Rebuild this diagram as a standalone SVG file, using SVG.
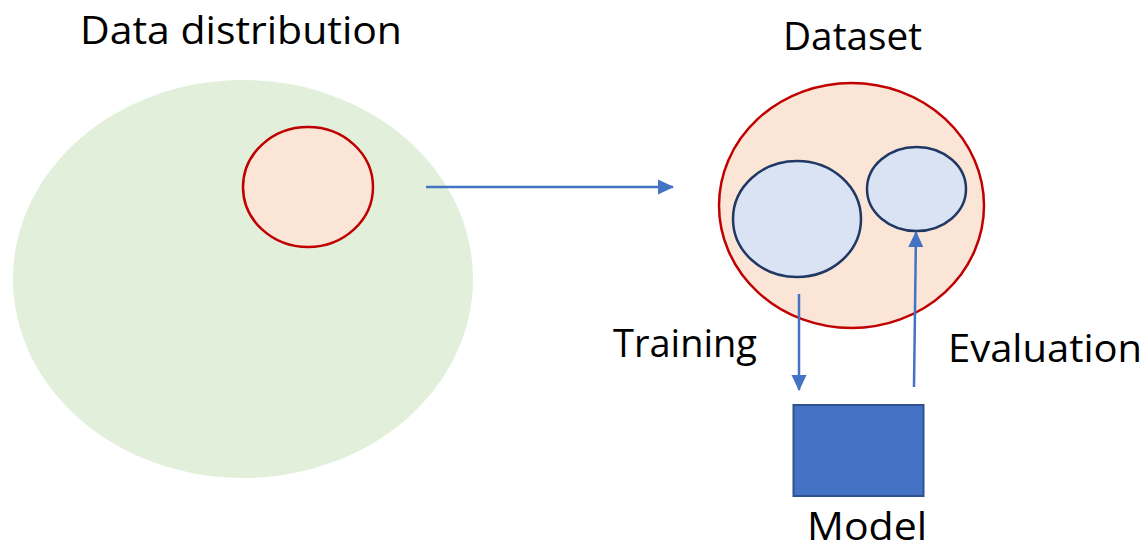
<svg xmlns="http://www.w3.org/2000/svg" width="1148" height="549" viewBox="0 0 1148 549">
<style>
text{font-family:"Open Sans","Liberation Sans",sans-serif;font-size:38px;fill:#000}
.conn{stroke:#4472C4;stroke-width:2.5;fill:none;marker-end:url(#ah)}
.inner{fill:#DAE3F3;stroke:#203864;stroke-width:2.5}
.red{fill:#FBE5D6;stroke:#C00000;stroke-width:2.5}
</style>
<defs>
<marker id="ah" markerUnits="userSpaceOnUse" markerWidth="16" markerHeight="16" viewBox="0 0 16 16" refX="15" refY="8" orient="auto">
<path d="M0,0.5 L16,8 L0,15.5 Z" fill="#4472C4"/>
</marker>
</defs>
<rect width="1148" height="549" fill="#fff"/>
<g id="data-distribution">
<ellipse cx="243" cy="279" rx="230" ry="199" fill="#E2EFDA"/>
<ellipse cx="308" cy="187" rx="65" ry="60" class="red"/>
<text x="80" y="44" textLength="322" lengthAdjust="spacingAndGlyphs">Data distribution</text>
</g>
<g id="dataset">
<ellipse cx="851.5" cy="205.5" rx="132.5" ry="122.5" class="red"/>
<text x="783" y="50" textLength="139" lengthAdjust="spacingAndGlyphs">Dataset</text>
</g>
<g id="train-set">
<ellipse cx="797" cy="219" rx="64" ry="58" class="inner"/>
</g>
<g id="eval-set">
<ellipse cx="916.5" cy="189" rx="49.5" ry="42" class="inner"/>
</g>
<g id="model">
<rect x="793.5" y="405" width="130" height="91" fill="#4472C4" stroke="#2F528F" stroke-width="2"/>
<text x="807" y="540" textLength="120" lengthAdjust="spacingAndGlyphs">Model</text>
</g>
<g id="connectors">
<line x1="426" y1="187" x2="673" y2="187" class="conn"/>
<line x1="799" y1="294" x2="799" y2="390" class="conn"/>
<line x1="914" y1="387" x2="916" y2="232" class="conn"/>
<text x="613" y="357" textLength="144" lengthAdjust="spacingAndGlyphs">Training</text>
<text x="948" y="362" textLength="194" lengthAdjust="spacingAndGlyphs">Evaluation</text>
</g>
</svg>
